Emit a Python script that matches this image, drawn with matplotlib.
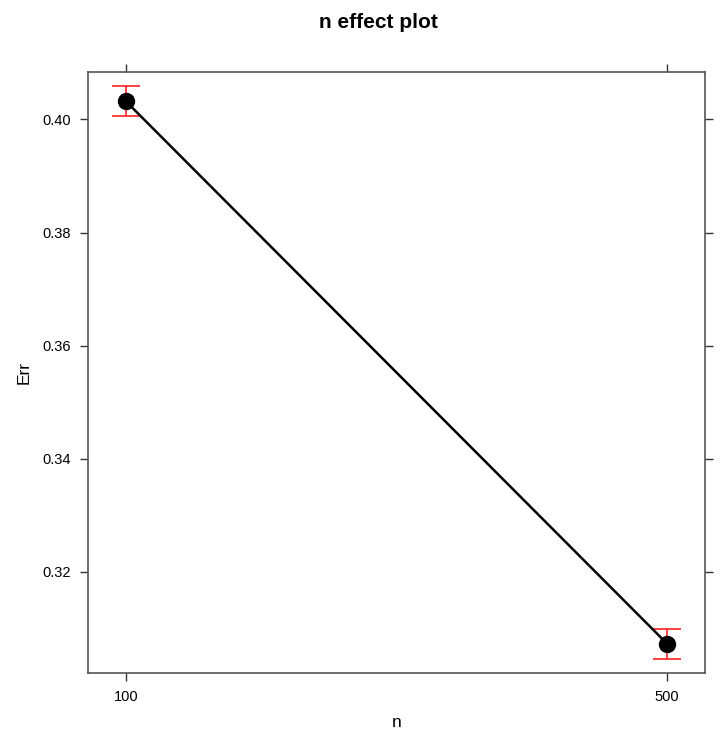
import matplotlib
matplotlib.use("Agg")
import matplotlib.pyplot as plt

# data
n_levels = [100, 500]
err_fit = [0.4032, 0.3073]
err_lower = [0.4006, 0.3046]
err_upper = [0.4059, 0.3099]
y_ticks = [0.32, 0.34, 0.36, 0.38, 0.40]

plt.rcParams["font.family"] = ["Liberation Sans", "DejaVu Sans"]

fig = plt.figure(figsize=(7.23, 7.32), dpi=100)
ax = fig.add_axes([88 / 723, 59 / 732, 617 / 723, 601 / 732])

yerr = [[f - lo for f, lo in zip(err_fit, err_lower)],
        [hi - f for f, hi in zip(err_fit, err_upper)]]
ax.errorbar(n_levels, err_fit, yerr=yerr, fmt="none", ecolor="#ff2020",
            elinewidth=1.2, capsize=10, capthick=1.2, zorder=2)
ax.plot(n_levels, err_fit, color="black", lw=1.8, zorder=3)
ax.plot(n_levels, err_fit, "o", color="black", ms=11.5, zorder=4)

ax.set_xlim(71.9, 528.1)
ax.set_ylim(0.3021, 0.4084)
ax.set_xticks(n_levels)
ax.set_xticklabels([str(v) for v in n_levels])
ax.set_yticks(y_ticks)
ax.set_yticklabels([f"{v:.2f}" for v in y_ticks])

ax.tick_params(direction="out", length=6, width=1, color="#333333",
               labelsize=10.5, pad=6, top=True, right=True,
               labeltop=False, labelright=False)
for s in ax.spines.values():
    s.set_color("#555555")
    s.set_linewidth(1.2)

ax.set_xlabel("n", fontsize=12.5, labelpad=8)
ax.set_ylabel("Err", fontsize=12.5, labelpad=8)

fig.text(378 / 723, 1 - 22 / 732, "n effect plot", ha="center", va="center",
         fontsize=15, fontweight="bold")

fig.savefig("out.png", dpi=100)
